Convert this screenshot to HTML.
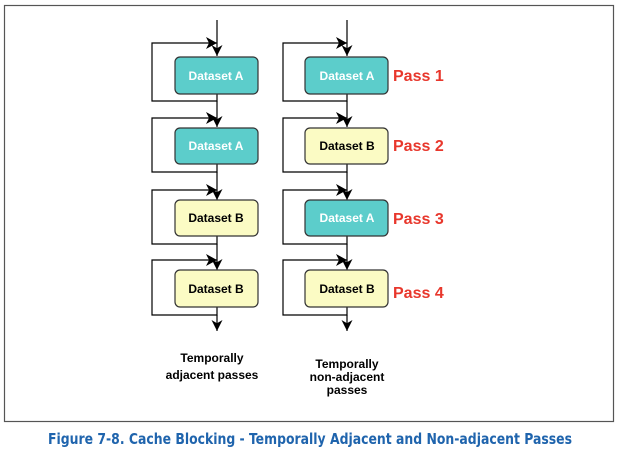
<!DOCTYPE html>
<html><head><style>
body{margin:0;width:619px;height:450px;background:#fff;overflow:hidden}
</style></head><body>
<svg width="619" height="450" xmlns="http://www.w3.org/2000/svg" font-family="Liberation Sans, Arial, sans-serif">
<defs>
<marker id="ah" viewBox="0 0 10 10" refX="10" refY="5" markerWidth="11" markerHeight="11" markerUnits="userSpaceOnUse" orient="auto">
<path d="M0,0 L10,5 L0,10 L3,5 Z" fill="#000"/></marker>
</defs>
<rect x="4.5" y="5.5" width="609" height="416" fill="#fff" stroke="#555" stroke-width="1.2"/>
<g stroke="#000" stroke-width="1.2" fill="none">
<line x1="217" y1="20" x2="217" y2="56" marker-end="url(#ah)"/>
<polyline points="217,94 217,101 152,101 152,43 217,43"/>
<line x1="217" y1="101" x2="217" y2="127" marker-end="url(#ah)"/>
<polyline points="217,164 217,172 152,172 152,118 217,118"/>
<line x1="217" y1="172" x2="217" y2="200" marker-end="url(#ah)"/>
<polyline points="217,236 217,244 152,244 152,190 217,190"/>
<line x1="217" y1="244" x2="217" y2="270" marker-end="url(#ah)"/>
<polyline points="217,307 217,315 152,315 152,260 217,260"/>
<line x1="217" y1="315" x2="217" y2="331" marker-end="url(#ah)"/>
<line x1="347" y1="20" x2="347" y2="56" marker-end="url(#ah)"/>
<polyline points="347,94 347,101 283,101 283,43 347,43"/>
<line x1="347" y1="101" x2="347" y2="127" marker-end="url(#ah)"/>
<polyline points="347,164 347,172 283,172 283,118 347,118"/>
<line x1="347" y1="172" x2="347" y2="200" marker-end="url(#ah)"/>
<polyline points="347,236 347,244 283,244 283,190 347,190"/>
<line x1="347" y1="244" x2="347" y2="270" marker-end="url(#ah)"/>
<polyline points="347,307 347,315 283,315 283,260 347,260"/>
<line x1="347" y1="315" x2="347" y2="331" marker-end="url(#ah)"/>
</g>
<g fill="#000">
<path d="M206,37 L217,43 L206,49 L209,43Z"/><path d="M336,37 L347,43 L336,49 L339,43Z"/>
<path d="M206,112 L217,118 L206,124 L209,118Z"/><path d="M336,112 L347,118 L336,124 L339,118Z"/>
<path d="M206,184 L217,190 L206,196 L209,190Z"/><path d="M336,184 L347,190 L336,196 L339,190Z"/>
<path d="M206,254 L217,260 L206,266 L209,260Z"/><path d="M336,254 L347,260 L336,266 L339,260Z"/>
</g>
<g stroke="#333" stroke-width="1.2">
<rect x="175" y="57" width="83" height="37" rx="5" fill="#5ccdcb"/>
<rect x="175" y="128" width="83" height="36" rx="5" fill="#5ccdcb"/>
<rect x="175" y="200" width="83" height="36" rx="5" fill="#fbfbc4"/>
<rect x="175" y="270" width="83" height="37" rx="5" fill="#fbfbc4"/>
<rect x="305" y="57" width="83" height="37" rx="5" fill="#5ccdcb"/>
<rect x="305" y="128" width="83" height="36" rx="5" fill="#fbfbc4"/>
<rect x="305" y="200" width="83" height="36" rx="5" fill="#5ccdcb"/>
<rect x="305" y="270" width="83" height="37" rx="5" fill="#fbfbc4"/>
</g>
<g font-size="12" font-weight="bold" text-anchor="middle">
<text x="216" y="80" fill="#fff">Dataset A</text>
<text x="216" y="150" fill="#fff">Dataset A</text>
<text x="216" y="222">Dataset B</text>
<text x="216" y="293">Dataset B</text>
<text x="347" y="80" fill="#fff">Dataset A</text>
<text x="347" y="150">Dataset B</text>
<text x="347" y="222" fill="#fff">Dataset A</text>
<text x="347" y="293">Dataset B</text>
<text x="212" y="362">Temporally</text>
<text x="212" y="379">adjacent passes</text>
<text x="347" y="368">Temporally</text>
<text x="347" y="381">non-adjacent</text>
<text x="347" y="394">passes</text>
</g>
<g font-size="16" font-weight="bold" fill="#e8372c">
<text x="393" y="81">Pass 1</text>
<text x="393" y="151">Pass 2</text>
<text x="393" y="224">Pass 3</text>
<text x="393" y="298">Pass 4</text>
</g>
<text x="310" y="444" font-size="15.5" font-weight="bold" fill="#1f64ad" text-anchor="middle" font-family="DejaVu Sans Condensed, Liberation Sans Narrow, sans-serif" textLength="524" lengthAdjust="spacingAndGlyphs">Figure 7-8.  Cache Blocking - Temporally Adjacent and Non-adjacent Passes</text>
</svg>
</body></html>
